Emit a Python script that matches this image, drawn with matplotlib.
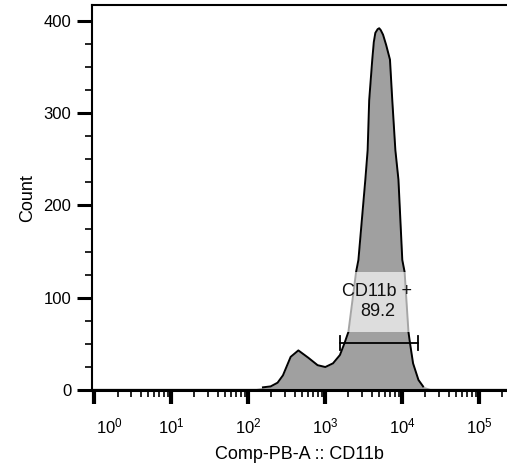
import matplotlib
matplotlib.use("Agg")
import matplotlib.pyplot as plt
import matplotlib.transforms as mtransforms
from matplotlib.patches import Rectangle
from matplotlib.ticker import MultipleLocator, LogLocator, FixedLocator
import numpy as np

plt.rcParams['font.family'] = ['Liberation Sans', 'DejaVu Sans']
plt.rcParams['mathtext.fontset'] = 'custom'
plt.rcParams['mathtext.rm'] = 'Liberation Sans'
plt.rcParams['mathtext.it'] = 'Liberation Sans'

# histogram outline (decade position, count)
log_intensity = [-0.03, 2.10, 2.19, 2.29, 2.38, 2.45, 2.55, 2.65, 2.78, 2.90, 3.00,
                 3.10, 3.19, 3.25, 3.30, 3.40, 3.43, 3.52, 3.55, 3.57, 3.61, 3.63,
                 3.65, 3.68, 3.70, 3.72, 3.75, 3.79, 3.84, 3.87, 3.91, 3.95, 4.00,
                 4.03, 4.08, 4.10, 4.14, 4.21, 4.27, 4.36, 5.36]
counts = [2, 2, 3, 4, 8, 16, 36, 43, 35, 27, 25,
          29, 38, 51, 63, 128, 141, 228, 260, 314, 358, 377,
          387, 391, 392, 390, 385, 374, 358, 314, 260, 228, 141,
          128, 63, 51, 29, 11, 4, 2, 2]

gate_name = "CD11b +"
gate_pct = "89.2"
gate_lo, gate_hi = 10**3.19, 10**4.21
gate_level = 51

x_ticks = [1, 10, 100, 1000, 10000, 100000]
x_ticklabels = [r"$10^{0}$", r"$10^{1}$", r"$10^{2}$", r"$10^{3}$", r"$10^{4}$", r"$10^{5}$"]
y_ticks = [0, 100, 200, 300, 400]

xs = 10 ** np.array(log_intensity)
ys = np.array(counts, dtype=float)

fig = plt.figure(figsize=(5.07, 4.70), dpi=100)
ax = fig.add_axes([0.1815, 0.170, 0.8185, 0.819])

ax.fill_between(xs, 0, ys, color='#a0a0a0', lw=0, zorder=1)
outline = np.ma.masked_where(ys <= 2, ys)
ax.plot(xs, outline, color='black', lw=1.4, zorder=2)

# label box (semi-transparent white)
ax.add_patch(Rectangle((10**3.1, 63), 10**4.3 - 10**3.1, 65,
                       facecolor='white', alpha=0.65, edgecolor='none', zorder=3))
ax.text(10**3.675, 96, gate_name + "\n" + gate_pct, ha='center', va='center',
        fontsize=13, linespacing=1.25, color='#111111', zorder=4)

# gate bar
ax.plot([gate_lo, gate_hi], [gate_level, gate_level], color='black', lw=1.3, zorder=5)
ax.plot([gate_lo, gate_lo], [gate_level - 8, gate_level + 8], color='black', lw=1.3, zorder=5)
ax.plot([gate_hi, gate_hi], [gate_level - 8, gate_level + 8], color='black', lw=1.3, zorder=5)

ax.set_xscale('log')
ax.set_xlim(10**-0.03, 10**5.36)
ax.set_ylim(0, 417)

ax.xaxis.set_major_locator(FixedLocator(x_ticks))
ax.set_xticklabels(x_ticklabels, fontsize=12)
ax.xaxis.set_minor_locator(LogLocator(base=10, subs=np.arange(2, 10), numticks=20))
ax.xaxis.set_minor_formatter(plt.NullFormatter())
ax.set_yticks(y_ticks)
ax.yaxis.set_minor_locator(MultipleLocator(25))
ax.tick_params(axis='y', labelsize=12)

ax.tick_params(axis='x', which='major', direction='out', length=10, width=3, pad=9)
ax.tick_params(axis='x', which='minor', direction='out', length=5, width=1.2)
ax.tick_params(axis='y', which='major', direction='out', length=11, width=2.2, pad=4)
ax.tick_params(axis='y', which='minor', direction='out', length=5, width=1.2)

# first label sits a bit right of its tick
lbl0 = ax.get_xticklabels()[0]
lbl0.set_transform(lbl0.get_transform() + mtransforms.ScaledTranslation(15 / 100, 0, fig.dpi_scale_trans))

ax.spines['right'].set_visible(False)
ax.spines['bottom'].set_linewidth(2.2)
ax.spines['left'].set_linewidth(1.5)
ax.spines['top'].set_linewidth(1.5)

ax.set_xlabel("Comp-PB-A :: CD11b", fontsize=13, labelpad=7)
ax.set_ylabel("Count", fontsize=13, labelpad=5)

fig.savefig("out.png", dpi=100)
